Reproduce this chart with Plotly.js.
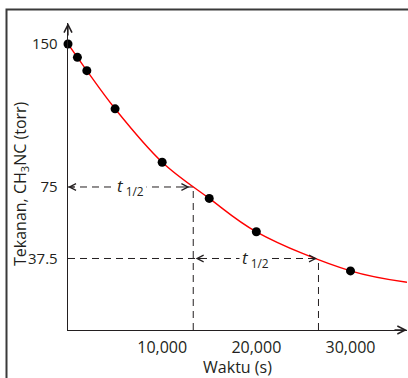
<!DOCTYPE html>
<html>
<head>
<meta charset="utf-8">
<script src="https://cdn.plot.ly/plotly-3.0.1.min.js"></script>
<style>html,body{margin:0;padding:0;background:#fff;}#chart{width:408px;height:378px;}</style>
</head>
<body>
<div id="chart"></div>
<script>
// Measured data points (time in s, pressure in torr)
const times = [0, 1000, 2000, 5000, 10000, 15000, 20000, 30000];
const pressures = [150, 143, 136, 116, 88, 69, 51.5, 31];
// Fitted curve (runs through the points to the right edge)
const curveTimes = [0, 1000, 2000, 5000, 10000, 15000, 20000, 30000, 36000];
const curvePressures = [150, 143, 136, 116, 88, 69, 51.5, 31, 25];
// Half-life guide values
const halfTimes = [13300, 26600];
const halfPressures = [75, 37.5];
// Tick labels
const xTickVals = [10000, 20000, 30000];
const xTickText = ['10,000', '20,000', '30,000'];
const yTickVals = [37.5, 75, 150];
const yTickText = ['37.5', '75', '150'];
const xTitle = 'Waktu (s)';
const yTitle = 'Tekanan, CH<sub>3</sub>NC (torr)';

const ink = '#231f20';
const font = {family: '"Open Sans", "Noto Sans", sans-serif', size: 16, color: ink};
const dash = '7px,5px';

const traces = [];
// guide lines
traces.push({x: [0, halfTimes[0]], y: [halfPressures[0], halfPressures[0]], mode: 'lines',
  line: {color: ink, width: 1, dash: dash}, hoverinfo: 'skip', showlegend: false});
traces.push({x: [halfTimes[0], halfTimes[0]], y: [0, halfPressures[0]], mode: 'lines',
  line: {color: ink, width: 1, dash: dash}, hoverinfo: 'skip', showlegend: false});
traces.push({x: [0, halfTimes[1]], y: [halfPressures[1], halfPressures[1]], mode: 'lines',
  line: {color: ink, width: 1, dash: dash}, hoverinfo: 'skip', showlegend: false});
traces.push({x: [halfTimes[1], halfTimes[1]], y: [0, halfPressures[1]], mode: 'lines',
  line: {color: ink, width: 1, dash: dash}, hoverinfo: 'skip', showlegend: false});
// curve
traces.push({x: curveTimes, y: curvePressures, mode: 'lines', line: {color: '#ff0000', width: 1.4, shape: 'spline'},
  hoverinfo: 'skip', showlegend: false, cliponaxis: false});
// points
traces.push({x: times, y: pressures, mode: 'markers', marker: {color: '#000', size: 9},
  showlegend: false, cliponaxis: false});

function arrowAnn(x, y, ax, ay, xref, yref, size, width) {
  return {x: x, y: y, xref: xref, yref: yref, ax: ax, ay: ay, axref: 'pixel', ayref: 'pixel',
    text: '', showarrow: true, arrowhead: 5, arrowsize: size, arrowwidth: width, arrowcolor: ink, standoff: 0};
}

const labelFont = {family: font.family, size: 17, color: ink};
const annotations = [
  // axis arrows
  arrowAnn(0, 1, 0, 14, 'paper', 'paper', 1.2, 1.3),
  arrowAnn(1, 0, -14, 0, 'paper', 'paper', 1.2, 1.3),
  // first half-life arrows
  arrowAnn(0, halfPressures[0], 8, 0, 'x', 'y', 1.3, 1),
  arrowAnn(halfTimes[0] - 400, halfPressures[0], -8, 0, 'x', 'y', 1.3, 1),
  // second half-life arrows
  arrowAnn(halfTimes[0] + 250, halfPressures[1], 8, 0, 'x', 'y', 1.3, 1),
  arrowAnn(halfTimes[1] - 150, halfPressures[1], -8, 0, 'x', 'y', 1.3, 1),
  // labels
  {x: halfTimes[0] / 2, y: halfPressures[0], xref: 'x', yref: 'y', showarrow: false,
   text: '<i>t</i><sub> 1/2</sub>', font: labelFont, bgcolor: '#fff', borderpad: 2},
  {x: (halfTimes[0] + halfTimes[1]) / 2, y: halfPressures[1], xref: 'x', yref: 'y', showarrow: false,
   text: '<i>t</i><sub> 1/2</sub>', font: labelFont, bgcolor: '#fff', borderpad: 2},
  // y axis title
  {x: -48 / 339, y: 146 / 307, xref: 'paper', yref: 'paper', xanchor: 'center', yanchor: 'middle',
   textangle: -90, showarrow: false, text: yTitle, font: font}
];

const layout = {
  width: 408, height: 378,
  margin: {l: 68, r: 1, t: 23, b: 48},
  paper_bgcolor: '#fff', plot_bgcolor: '#fff',
  font: font,
  xaxis: {
    range: [0, 36000], showgrid: false, zeroline: false,
    showline: true, linecolor: ink, linewidth: 1.3,
    tickvals: xTickVals, ticktext: xTickText, ticks: '', ticklabelstandoff: 2,
    title: {text: xTitle, font: font, standoff: 6}
  },
  yaxis: {
    range: [0, 161], showgrid: false, zeroline: false,
    showline: true, linecolor: ink, linewidth: 1.3,
    tickvals: yTickVals, ticktext: yTickText, ticks: '', ticklabelstandoff: 6,
    tickfont: {family: font.family, size: 15, color: ink}
  },
  shapes: [
    {type: 'path', xref: 'paper', yref: 'paper', layer: 'above',
     path: 'M' + ((6.5 - 68) / 339) + ',' + ((330 - 380) / 307) + ' L' + ((6.5 - 68) / 339) + ',' + ((330 - 9.5) / 307) +
           ' L' + ((410 - 68) / 339) + ',' + ((330 - 9.5) / 307),
     line: {color: '#3a3a3a', width: 2}}
  ],
  annotations: annotations
};

Plotly.newPlot('chart', traces, layout, {displayModeBar: false, staticPlot: true});
</script>
</body>
</html>
